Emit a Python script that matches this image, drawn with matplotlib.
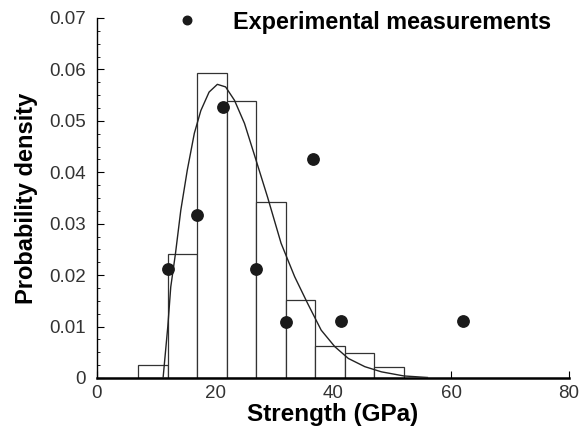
import matplotlib
matplotlib.use('Agg')
import matplotlib.pyplot as plt
from matplotlib.ticker import MultipleLocator

plt.rcParams['font.family'] = ['Liberation Sans', 'DejaVu Sans']

# histogram bins (GPa) and probability densities
bin_left = [7, 12, 17, 22, 27, 32, 37, 42, 47]
bin_height = [0.0026, 0.0241, 0.0593, 0.0538, 0.0342, 0.0151, 0.0062, 0.0049, 0.0022]
BIN_W = 5

# fitted density curve, sampled by eye
curve_x = [11.2, 12.0, 12.5, 13.3, 14.2, 15.3, 16.5, 17.6, 19.0, 20.4, 21.8,
           23.3, 25.0, 26.7, 28.9, 31.2, 33.5, 35.7, 38.0, 40.3, 42.6, 45.4,
           48.2, 52.0, 56.0]
curve_y = [0.0, 0.010, 0.0177, 0.0242, 0.0326, 0.0404, 0.0476, 0.052, 0.0556,
           0.0571, 0.0566, 0.054, 0.0495, 0.0433, 0.0352, 0.0262, 0.0197,
           0.0145, 0.0093, 0.0061, 0.0038, 0.0022, 0.0012, 0.0004, 0.0001]

# experimental measurements
exp_x = [12.1, 16.9, 21.4, 26.9, 32.0, 36.6, 41.4, 62.0]
exp_y = [0.0212, 0.0317, 0.0527, 0.0212, 0.0109, 0.0425, 0.0110, 0.0110]

ytick_vals = [0, 0.01, 0.02, 0.03, 0.04, 0.05, 0.06, 0.07]
ytick_labels = ['0', '0.01', '0.02', '0.03', '0.04', '0.05', '0.06', '0.07']
xtick_vals = [0, 20, 40, 60, 80]

fig = plt.figure(figsize=(5.81, 4.30), dpi=100)
ax = fig.add_axes([97 / 581, 52 / 430, 472 / 581, 360 / 430])

ax.bar(bin_left, bin_height, width=BIN_W, align='edge', facecolor='white',
       edgecolor='#333333', linewidth=0.9, zorder=2)
ax.plot(curve_x, curve_y, color='#222222', linewidth=1.0, zorder=3)
ax.plot(exp_x, exp_y, linestyle='none', marker='o', markersize=8.2,
        color='#1a1a1a', zorder=4, label='Experimental measurements')

ax.set_xlim(0, 80)
ax.set_ylim(0, 0.07)
ax.set_xticks(xtick_vals)
ax.set_yticks(ytick_vals)
ax.set_yticklabels(ytick_labels)
ax.yaxis.set_minor_locator(MultipleLocator(0.0025))

ax.spines['top'].set_visible(False)
ax.spines['right'].set_visible(False)
ax.spines['bottom'].set_linewidth(1.8)
ax.spines['left'].set_linewidth(1.0)

ax.tick_params(axis='both', which='major', direction='in', length=5,
               labelsize=13.5, labelcolor='#333333')
ax.tick_params(axis='y', which='minor', direction='in', length=2.5)
ax.tick_params(axis='y', which='major', pad=8)
ax.tick_params(axis='x', which='major', pad=5)

ax.set_xlabel('Strength (GPa)', fontsize=17.5, fontweight='bold', labelpad=1)
ax.set_ylabel('Probability density', fontsize=17, fontweight='bold')
ax.yaxis.set_label_coords(-0.125, 0.5)

fig.legend(handles=ax.get_lines()[1:], loc='center left',
           bbox_to_anchor=(175 / 581, 1 - 22 / 430), frameon=False,
           prop={'size': 16.8, 'weight': 'bold'}, markerscale=0.75,
           handlelength=1.0, handletextpad=1.5, borderpad=0,
           borderaxespad=0)

fig.savefig('out.png', dpi=100)
